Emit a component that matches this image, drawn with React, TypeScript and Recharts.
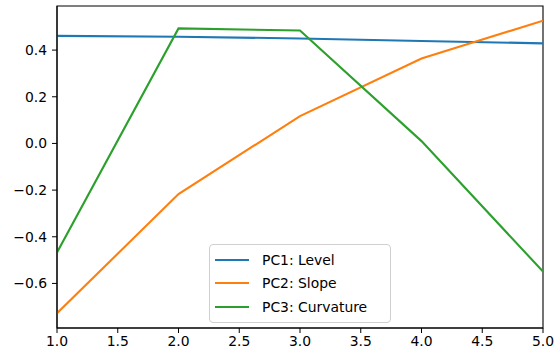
import { LineChart, Line, XAxis, YAxis, Legend, ReferenceArea } from 'recharts';

const maturities = [1, 2, 3, 4, 5];
const pc1Level = [0.461, 0.457, 0.45, 0.439, 0.429];
const pc2Slope = [-0.728, -0.217, 0.117, 0.364, 0.526];
const pc3Curvature = [-0.467, 0.493, 0.484, 0.01, -0.549];
const xTicks = [1, 1.5, 2, 2.5, 3, 3.5, 4, 4.5, 5];
const yTicks = [-0.6, -0.4, -0.2, 0, 0.2, 0.4];

const seriesNames = ['PC1: Level', 'PC2: Slope', 'PC3: Curvature'];
const colors = ['#1f77b4', '#ff7f0e', '#2ca02c'];

const data = maturities.map((m, i) => ({
  x: m,
  pc1: pc1Level[i],
  pc2: pc2Slope[i],
  pc3: pc3Curvature[i],
}));

const xDomain: [number, number] = [1, 5];
const yDomain: [number, number] = [-0.791, 0.589];

const font = 'DejaVu Sans, sans-serif';
const tickStyle = { fontSize: 13.9, fill: '#000', fontFamily: font };
const fmt = (v: number) => v.toFixed(1).replace('-', '\u2212');

function LegendBox() {
  return (
    <div
      style={{
        border: '1px solid #d0d0d0',
        borderRadius: 4,
        background: 'rgba(255,255,255,0.8)',
        padding: '3px 8px 3px 5px',
        fontFamily: font,
        fontSize: 13.9,
        color: '#000',
        boxSizing: 'border-box',
        width: 182,
      }}
    >
      {seriesNames.map((name, i) => (
        <div key={name} style={{ display: 'flex', alignItems: 'center', height: 23.5 }}>
          <span style={{ display: 'inline-block', width: 34, height: 2, background: colors[i], marginRight: 13 }} />
          <span>{name}</span>
        </div>
      ))}
    </div>
  );
}

export default function App() {
  return (
    <div style={{ position: 'absolute', left: 0, top: 0, width: 557, height: 352, background: '#fff' }}>
      <LineChart width={557} height={352} data={data} margin={{ top: 6, right: 14, bottom: 0, left: 0 }}>
        <XAxis
          dataKey="x"
          type="number"
          domain={xDomain}
          ticks={xTicks}
          tickFormatter={fmt}
          height={24}
          tick={tickStyle}
          tickSize={5}
          tickMargin={3}
          stroke="#000"
          allowDataOverflow
        />
        <YAxis
          type="number"
          domain={yDomain}
          ticks={yTicks}
          tickFormatter={fmt}
          width={57}
          tick={tickStyle}
          tickSize={5}
          tickMargin={5}
          stroke="#000"
          allowDataOverflow
        />
        <ReferenceArea
          x1={xDomain[0]}
          x2={xDomain[1]}
          y1={yDomain[0]}
          y2={yDomain[1]}
          fill="none"
          stroke="#000"
          strokeWidth={1.1}
        />
        <Legend
          layout="horizontal"
          verticalAlign="middle"
          align="center"
          wrapperStyle={{ left: 209, top: 244, width: 182 }}
          content={() => <LegendBox />}
        />
        <Line dataKey="pc1" stroke={colors[0]} strokeWidth={2.1} dot={false} isAnimationActive={false} />
        <Line dataKey="pc2" stroke={colors[1]} strokeWidth={2.1} dot={false} isAnimationActive={false} />
        <Line dataKey="pc3" stroke={colors[2]} strokeWidth={2.1} dot={false} isAnimationActive={false} />
      </LineChart>
    </div>
  );
}
